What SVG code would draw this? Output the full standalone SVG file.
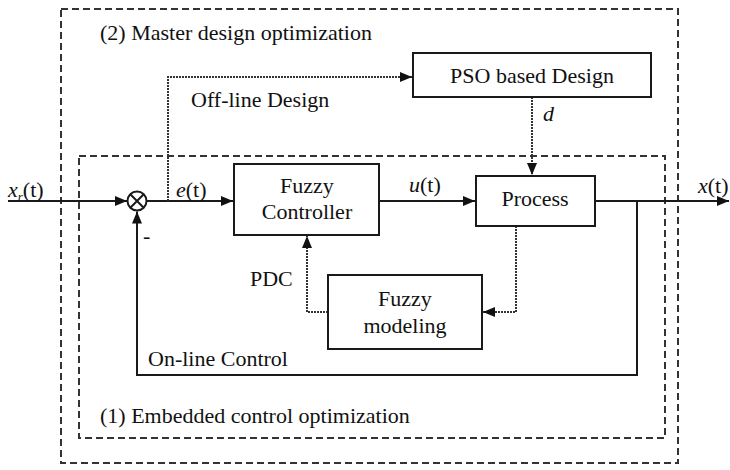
<svg xmlns="http://www.w3.org/2000/svg" width="730" height="470" viewBox="0 0 730 470">
<defs>
<marker id="arr" viewBox="0 0 12 10" refX="12" refY="5" markerWidth="12" markerHeight="10" markerUnits="userSpaceOnUse" orient="auto">
<path d="M0,0 L12,5 L0,10 Z" fill="#111"/>
</marker>
<style>
text{font-family:"Liberation Serif","Times New Roman",serif;font-size:22px;fill:#111}
.box{fill:#fff;stroke:#1a1a1a;stroke-width:2}
.dash{fill:none;stroke:#333;stroke-width:2;stroke-dasharray:7 4}
.solid{fill:none;stroke:#1a1a1a;stroke-width:2}
.dot{fill:none;stroke:#333;stroke-width:2;stroke-dasharray:2 1}
.it{font-style:italic}
</style>
</defs>
<rect width="730" height="470" fill="#fff"/>
<g id="outer-region">
<rect class="dash" x="61" y="9" width="617" height="454"/>
<text x="100" y="40">(2) Master design optimization</text>
</g>
<g id="inner-region">
<rect class="dash" x="79" y="156" width="586" height="282"/>
<text x="100" y="423">(1) Embedded control optimization</text>
</g>
<g id="connectors">
<path class="solid" d="M8,201 H127" marker-end="url(#arr)"/>
<path class="solid" d="M146.5,201 H233" marker-end="url(#arr)"/>
<path class="solid" d="M379,201 H475" marker-end="url(#arr)"/>
<path class="solid" d="M595,201 H729" marker-end="url(#arr)"/>
<path class="solid" d="M637,201 V375 H137 V211.5" marker-end="url(#arr)"/>
<path class="dot" d="M168,201 V77 H412" marker-end="url(#arr)"/>
<path class="dot" d="M532,97 V175" marker-end="url(#arr)"/>
<path class="dot" d="M516,226 V312 H483" marker-end="url(#arr)"/>
<path class="dot" d="M328,312 H307 V236" marker-end="url(#arr)"/>
<text x="8" y="197"><tspan class="it">x</tspan><tspan class="it" font-size="13" dy="4">r</tspan><tspan dy="-4">(t)</tspan></text>
<text x="176" y="197"><tspan class="it">e</tspan>(t)</text>
<text x="409" y="192"><tspan class="it">u</tspan>(t)</text>
<text x="698" y="193"><tspan class="it">x</tspan>(t)</text>
<text x="543" y="121" class="it">d</text>
<text x="143" y="243">-</text>
<text x="191" y="107">Off-line Design</text>
<text x="148" y="366">On-line Control</text>
<text x="250" y="286">PDC</text>
</g>
<g id="sum">
<circle cx="137" cy="201" r="9.5" fill="#fff" stroke="#1a1a1a" stroke-width="2"/>
<path class="solid" d="M130.3,194.3 L143.7,207.7 M143.7,194.3 L130.3,207.7"/>
</g>
<g id="pso">
<rect class="box" x="413" y="53" width="238" height="44"/>
<text x="532" y="83" text-anchor="middle">PSO based Design</text>
</g>
<g id="fuzzy-controller">
<rect class="box" x="234" y="164" width="145" height="71"/>
<text x="307" y="193" text-anchor="middle">Fuzzy</text>
<text x="307" y="219" text-anchor="middle">Controller</text>
</g>
<g id="process">
<rect class="box" x="476" y="176" width="119" height="50"/>
<text x="535" y="206" text-anchor="middle">Process</text>
</g>
<g id="fuzzy-modeling">
<rect class="box" x="328" y="275" width="154" height="74"/>
<text x="405" y="306" text-anchor="middle">Fuzzy</text>
<text x="405" y="333" text-anchor="middle">modeling</text>
</g>
</svg>
